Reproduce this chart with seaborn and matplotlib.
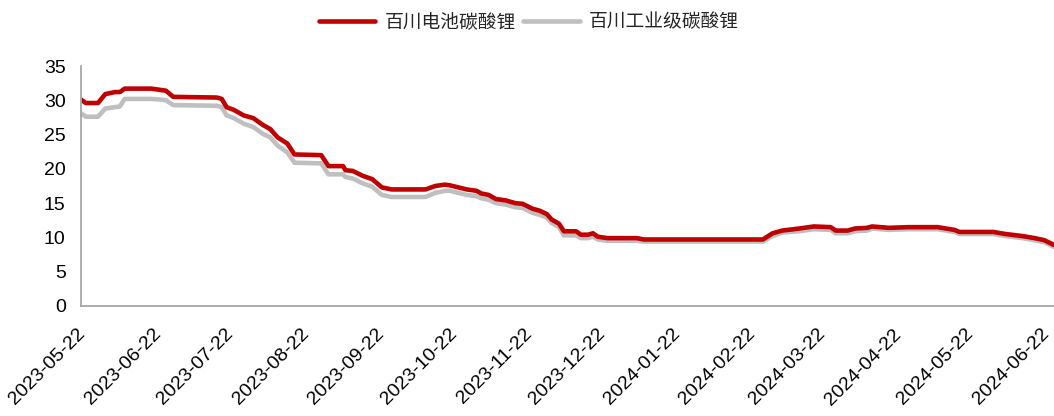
import matplotlib
matplotlib.use("Agg")
import matplotlib.pyplot as plt
import matplotlib.transforms as mtransforms
import pandas as pd
import seaborn as sns
from matplotlib.lines import Line2D

# ---- data ----
dates = [
    "2023-05-22", "2023-05-24", "2023-05-29", "2023-06-01", "2023-06-05", "2023-06-07",
    "2023-06-09", "2023-06-20", "2023-06-24", "2023-06-26", "2023-06-29", "2023-07-17",
    "2023-07-19", "2023-07-21", "2023-07-24", "2023-07-28", "2023-08-01", "2023-08-05",
    "2023-08-08", "2023-08-11", "2023-08-15", "2023-08-18", "2023-08-29", "2023-09-01",
    "2023-09-07", "2023-09-08", "2023-09-11", "2023-09-15", "2023-09-19", "2023-09-23",
    "2023-09-27", "2023-10-11", "2023-10-15", "2023-10-19", "2023-10-21", "2023-10-28",
    "2023-11-01", "2023-11-03", "2023-11-06", "2023-11-09", "2023-11-13", "2023-11-17",
    "2023-11-20", "2023-11-24", "2023-11-27", "2023-11-30", "2023-12-02", "2023-12-05",
    "2023-12-07", "2023-12-12", "2023-12-14", "2023-12-17", "2023-12-19", "2023-12-21",
    "2023-12-25", "2024-01-06", "2024-01-09", "2024-02-27", "2024-03-02", "2024-03-06",
    "2024-03-13", "2024-03-19", "2024-03-26", "2024-03-28", "2024-04-02", "2024-04-05",
    "2024-04-10", "2024-04-12", "2024-04-19", "2024-04-27", "2024-05-09", "2024-05-16",
    "2024-05-18", "2024-06-01", "2024-06-06", "2024-06-13", "2024-06-18", "2024-06-22",
    "2024-06-26",
]

battery_grade = [
    30.1, 29.6, 29.6, 30.9, 31.2, 31.2,
    31.7, 31.7, 31.5, 31.4, 30.5, 30.4,
    30.2, 29.0, 28.6, 27.8, 27.4, 26.4,
    25.8, 24.6, 23.7, 22.1, 22.0, 20.4,
    20.4, 19.8, 19.7, 19.0, 18.5, 17.3,
    17.0, 17.0, 17.5, 17.7, 17.6, 17.0,
    16.8, 16.4, 16.2, 15.6, 15.4, 15.0,
    14.9, 14.2, 13.9, 13.4, 12.6, 12.0,
    10.9, 10.9, 10.4, 10.4, 10.6, 10.1,
    9.9, 9.9, 9.7, 9.7, 10.6, 11.0,
    11.3, 11.6, 11.5, 11.0, 11.0, 11.3,
    11.4, 11.6, 11.4, 11.5, 11.5, 11.1,
    10.8, 10.8, 10.5, 10.2, 9.9, 9.6,
    8.9,
]

industrial_grade = [
    28.1, 27.6, 27.6, 28.8, 29.0, 29.1,
    30.2, 30.2, 30.1, 30.0, 29.3, 29.2,
    29.0, 27.8, 27.4, 26.6, 26.1, 25.1,
    24.6, 23.4, 22.4, 20.9, 20.8, 19.2,
    19.2, 18.8, 18.6, 17.9, 17.4, 16.2,
    15.9, 15.9, 16.5, 16.8, 16.8, 16.2,
    16.0, 15.7, 15.5, 15.0, 14.8, 14.4,
    14.3, 13.6, 13.3, 12.9, 12.1, 11.5,
    10.3, 10.3, 9.9, 9.9, 10.1, 9.7,
    9.5, 9.5, 9.4, 9.4, 10.2, 10.7,
    10.9, 11.2, 11.1, 10.6, 10.6, 10.9,
    11.0, 11.3, 11.1, 11.2, 11.2, 10.8,
    10.5, 10.5, 10.2, 9.9, 9.6, 9.3,
    8.6,
]

series_names = ["百川电池碳酸锂", "百川工业级碳酸锂"]
series_colors = ["#C00000", "#BFBFBF"]

tick_labels = [
    "2023-05-22", "2023-06-22", "2023-07-22", "2023-08-22", "2023-09-22",
    "2023-10-22", "2023-11-22", "2023-12-22", "2024-01-22", "2024-02-22",
    "2024-03-22", "2024-04-22", "2024-05-22", "2024-06-22",
]
y_ticks = [0, 5, 10, 15, 20, 25, 30, 35]

# ---- build long table ----
df = pd.concat([
    pd.DataFrame({"date": pd.to_datetime(dates), "value": battery_grade, "series": series_names[0]}),
    pd.DataFrame({"date": pd.to_datetime(dates), "value": industrial_grade, "series": series_names[1]}),
], ignore_index=True)

sns.set_theme(style="white")
plt.rcParams["font.family"] = ["Liberation Sans", "Noto Sans CJK SC", "DejaVu Sans"]

fig = plt.figure(figsize=(10.54, 4.16), dpi=100)
ax = fig.add_axes([81 / 1054, 1 - 306 / 416, 973 / 1054, 240 / 416])

# draw gray first so red sits on top
sns.lineplot(data=df, x="date", y="value", hue="series",
             hue_order=series_names[::-1],
             palette=dict(zip(series_names, series_colors)),
             linewidth=3.3, ax=ax, legend=False, estimator=None, sort=False)

ax.set_xlim(pd.Timestamp(dates[0]), pd.Timestamp(dates[-1]))
ax.set_ylim(0, 35)
ax.set_yticks(y_ticks)
ax.set_yticklabels([str(v) for v in y_ticks], fontsize=14)
ax.set_xticks(pd.to_datetime(tick_labels))
ax.set_xticklabels(tick_labels, rotation=45, ha="right", rotation_mode="anchor",
                   fontsize=14)
ax.set_xlabel("")
ax.set_ylabel("")

for s in ["top", "right"]:
    ax.spines[s].set_visible(False)
for s in ["left", "bottom"]:
    ax.spines[s].set_color("#A6A6A6")
    ax.spines[s].set_linewidth(1.3)
ax.tick_params(axis="both", which="major", direction="out", length=5, width=1.3,
               color="#A6A6A6", labelcolor="#000000")
ax.tick_params(axis="y", pad=6)
ax.tick_params(axis="x", pad=9)

# keep the last date label inside the picture
offset = mtransforms.ScaledTranslation(-4 / 100, 0, fig.dpi_scale_trans)
for lbl in ax.get_xticklabels():
    lbl.set_transform(lbl.get_transform() + offset)
ax.grid(False)

# legend
handles = [Line2D([0], [0], color=c, linewidth=3.3) for c in series_colors]
fig.legend(handles, series_names, loc="center", bbox_to_anchor=(0.502, 0.947),
           ncol=2, frameon=False, handlelength=3.0,
           handletextpad=0.5, columnspacing=0.4,
           prop={"family": ["Noto Sans CJK SC", "DejaVu Sans"], "size": 13.5})

fig.savefig("out.png", dpi=100)
